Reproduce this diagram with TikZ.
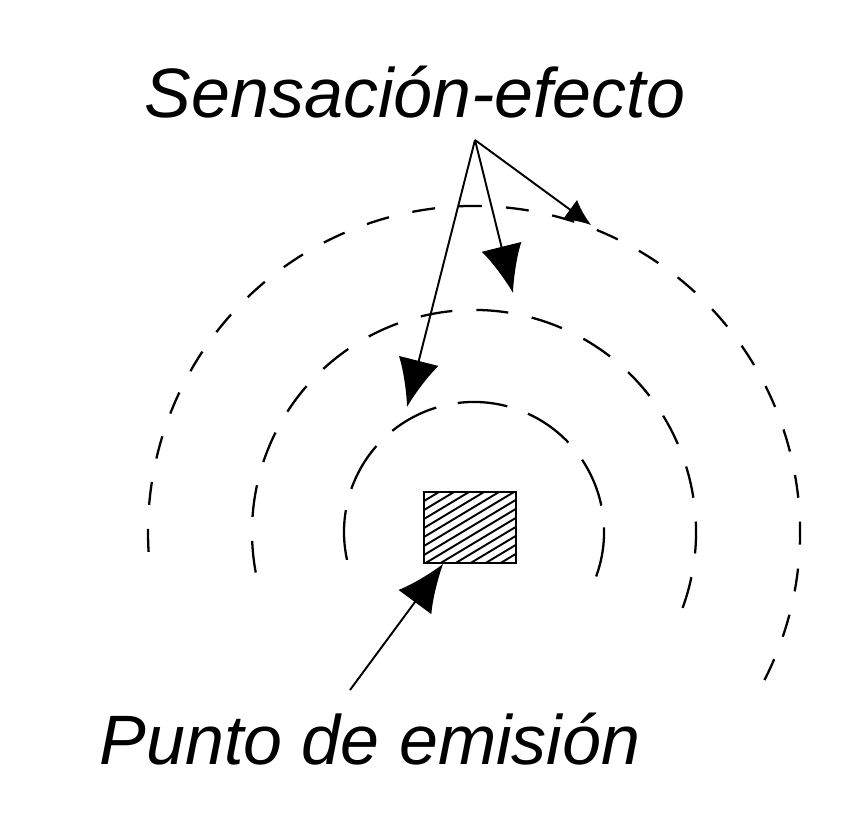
\documentclass[tikz,border=0pt]{standalone}
\usepackage{fontspec}
\setmainfont{Liberation Sans}
\usetikzlibrary{arrows.meta}
\begin{document}
\begin{tikzpicture}[x=0.02cm, y=0.02cm,
  wave/.style={line width=1.3pt},
  lbl/.style={font=\fontsize{39.8}{48}\selectfont\itshape, inner sep=0pt},
  bigarr/.style={line width=1.1pt, -{Latex[length=0.95cm,width=0.82cm]}},
  smallarr/.style={line width=1.1pt, -{Latex[length=0.52cm,width=0.48cm]}}]
\useasboundingbox (0,0) rectangle (866,822);

% labels
\node[lbl, anchor=base] (sens) at (415,704) {Sensación-efecto};
\node[lbl, anchor=base] (punto) at (370,57) {Punto de emisión};

% waves round the source
\coordinate (c) at (474,290);
\draw[wave, dash pattern=on 1cm off 0.44cm] (c) ++(-20:130) arc[start angle=-20, end angle=200, radius=130];
\draw[wave, dash pattern=on 0.64cm off 0.48cm] (c) ++(-20:222) arc[start angle=-20, end angle=193, radius=222];
\draw[wave, dash pattern=on 0.46cm off 0.48cm] (c) ++(-27:326) arc[start angle=-27, end angle=186, radius=326];

% emission point
\node[draw, line width=1pt, minimum width=1.84cm, minimum height=1.42cm, inner sep=0pt] (emis) at (470,294.5) {};
\begin{scope}
  \clip (424,259) rectangle (516,330);
  \foreach \k in {0,...,14}
    \draw[line width=1.1pt] (424,{195+\k*9}) -- ++(110,66);
\end{scope}

% arrows
\coordinate (src) at (475,682);
\coordinate (foot) at (350,132);
\coordinate (e1) at (407,415);
\coordinate (e2) at (513,529);
\coordinate (e3) at (591,597);
\draw[bigarr] (src) -- (e1);
\draw[bigarr] (src) -- (e2);
\draw[smallarr] (src) -- (e3);
\draw[bigarr] (foot) -- (emis);
\end{tikzpicture}
\end{document}
